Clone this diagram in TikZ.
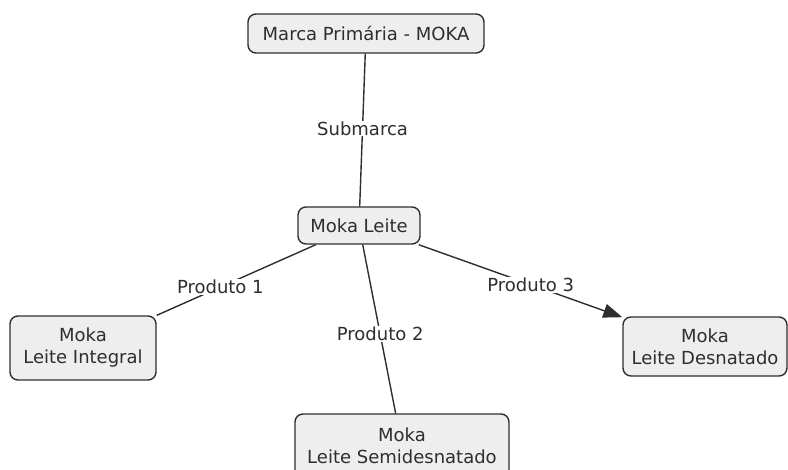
\documentclass[tikz,border=0pt]{standalone}
\usepackage{fontspec}
\setmainfont{DejaVu Sans}
\usetikzlibrary{arrows.meta}
\definecolor{edge}{HTML}{2E2E2E}
\definecolor{boxfill}{HTML}{EEEEEE}
\begin{document}
\begin{tikzpicture}[x=1pt,y=-1pt,
  concept/.style={draw=edge,line width=1.4pt,fill=boxfill,rounded corners=8pt,
    text=edge,align=center,inner sep=0pt,font=\fontsize{18}{22}\selectfont},
  lbl/.style={fill=white,text=edge,inner sep=1pt,font=\fontsize{18}{22}\selectfont},
  link/.style={draw=edge,line width=1.4pt}]
\useasboundingbox (0,0) rectangle (788,470);
\node[concept,minimum width=236pt,minimum height=39pt] (top) at (366,33.5) {Marca Primária - MOKA};
\node[concept,minimum width=122pt,minimum height=37pt] (leite) at (359,225.5) {Moka Leite};
\node[concept,minimum width=146pt,minimum height=64pt] (int) at (83,348) {Moka\\Leite Integral};
\node[concept,minimum width=164pt,minimum height=59pt] (des) at (705,346.5) {Moka\\Leite Desnatado};
\node[concept,minimum width=214pt,minimum height=64pt] (semi) at (402,446) {Moka\\Leite Semidesnatado};
\draw[link] (top) -- node[lbl,pos=0.49] (l0) {Submarca} (leite);
\draw[link] (leite) -- node[lbl,pos=0.6] (l1) {Produto 1} (int);
\draw[link] (leite) -- node[lbl,pos=0.53] (l2) {Produto 2} (semi);
\draw[link,-{Triangle[length=19pt,width=14pt]}] ([xshift=-2pt]leite.south east) -- node[lbl,pos=0.55] (l3) {Produto 3} (des);
\end{tikzpicture}
\end{document}
